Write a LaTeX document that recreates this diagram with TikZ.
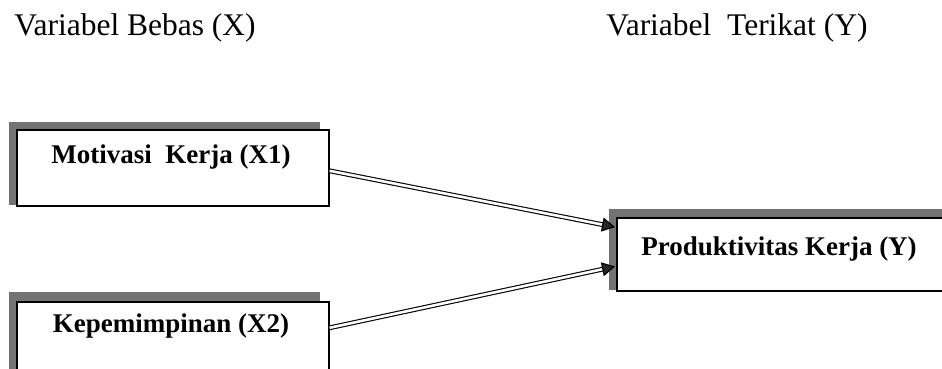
\documentclass[tikz,border=0pt]{standalone}
\usepackage{fontspec}
\setmainfont{Liberation Serif}
\usetikzlibrary{arrows.meta,calc}
\begin{document}
\begin{tikzpicture}[x=1pt,y=-1pt,
  heading/.style={font=\fontsize{31.5}{36}\selectfont, inner sep=0pt},
  boxtext/.style={font=\bfseries\fontsize{27}{31}\selectfont, inner sep=0pt},
  varbox/.style={draw=black, line width=1.6pt, fill=white, inner sep=0pt, anchor=north west},
  link/.style={draw=black, line width=1.1pt, double=white, double distance=2.6pt,
    -{Triangle[length=13pt,width=14pt,fill=black!85]}, shorten >=1pt}
]
\useasboundingbox (0,0) rectangle (942,369);
\clip (0,0) rectangle (942,369);

% column headings
\node[heading] (hx) at (135,28) {Variabel Bebas (X)};
\node[heading] (hy) at (737,28) {Variabel\ \ Terikat (Y)};

% shadow bands on the upper left of each box
\fill[black!55] (9,122) rectangle (320,205);
\fill[black!55] (9,292) rectangle (320,400);
\fill[black!55] (609,209) rectangle (960,290);

% boxes
\node[varbox, minimum width=312pt, minimum height=76pt] (m) at (16,129) {};
\node[boxtext] (mt) at (171,157) {Motivasi\ \ Kerja (X1)};
\node[varbox, minimum width=312pt, minimum height=90pt] (k) at (16,301) {};
\node[boxtext] (kt) at (171,326) {Kepemimpinan (X2)};
\node[varbox, minimum width=340pt, minimum height=73pt] (p) at (616,217) {};
\node[boxtext] (pt) at (779,249) {Produktivitas Kerja (Y)};

% connectors
\draw[link] ([yshift=-3pt]m.east) -- ([yshift=27pt]p.west);
\draw[link] ([yshift=19pt]k.east) -- ([yshift=-12pt]p.west);
\end{tikzpicture}
\end{document}
